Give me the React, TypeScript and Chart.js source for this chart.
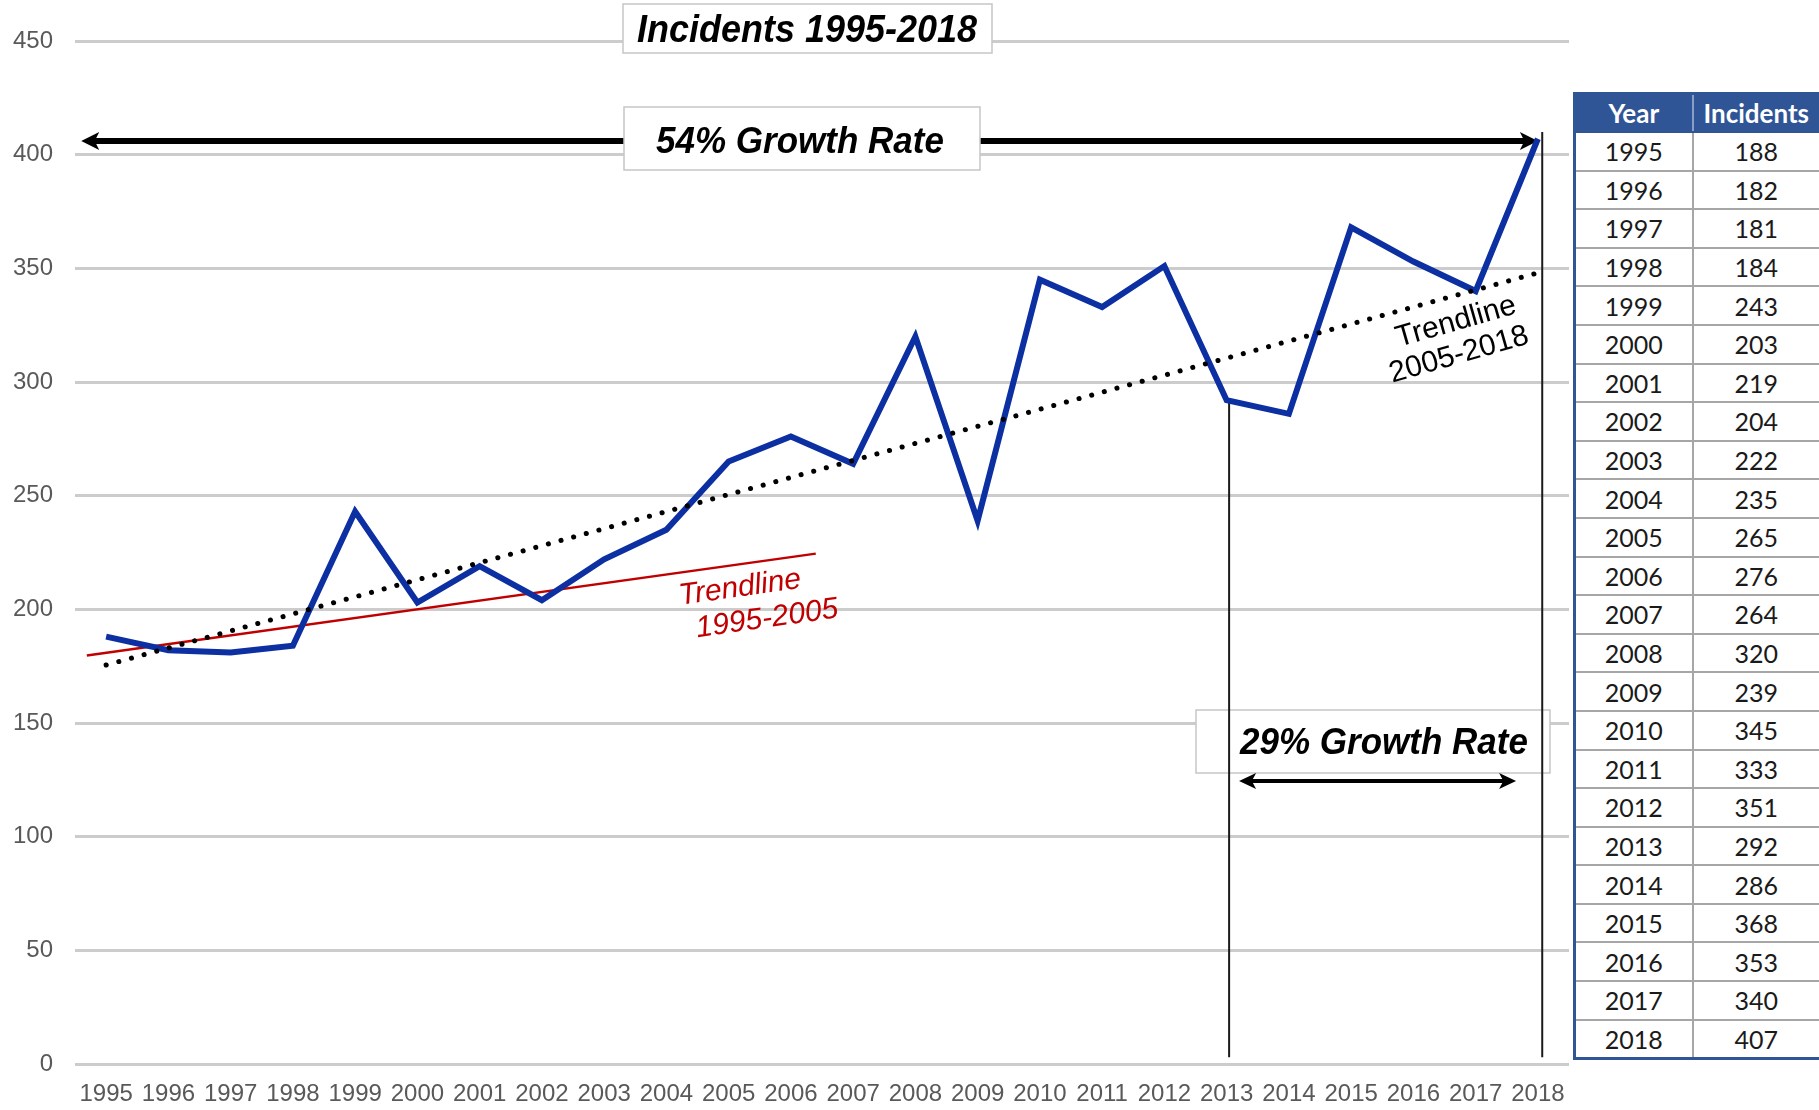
import React, { useEffect, useRef } from "react";
import { Chart, registerables } from "chart.js";

Chart.register(...registerables);

// ---------- data ----------
const years = [1995, 1996, 1997, 1998, 1999, 2000, 2001, 2002, 2003, 2004, 2005, 2006, 2007, 2008, 2009, 2010, 2011, 2012, 2013, 2014, 2015, 2016, 2017, 2018];
const incidents = [188, 182, 181, 184, 243, 203, 219, 204, 222, 235, 265, 276, 264, 320, 239, 345, 333, 351, 292, 286, 368, 353, 340, 407];
const yTicks = [0, 50, 100, 150, 200, 250, 300, 350, 400, 450];
const trendLong = [{ x: 1995, y: 175.5 }, { x: 2018, y: 348 }];
const trendShort = [{ x: 1994.69, y: 179.7 }, { x: 2006.4, y: 224.5 }];
const marker2013 = [{ x: 2013.04, y: 292 }, { x: 2013.04, y: 3 }];
const marker2018 = [{ x: 2018.07, y: 410 }, { x: 2018.07, y: 3 }];
const titleText = "Incidents 1995-2018";
const growthLongLabel = "54% Growth Rate";
const growthShortLabel = "29% Growth Rate";
const growthLongSpan = [1994.6, 2018];
const growthLongLevel = 406;
const growthShortSpan = [2013.2, 2017.65];
const growthShortLevel = 124.5;
const trendLongLabel = ["Trendline", "2005-2018"];
const trendShortLabel = ["Trendline", "1995-2005"];
const tableHeader = ["Year", "Incidents"];

const FONT = '"Liberation Sans", Arial, sans-serif';

function drawArrow(ctx: CanvasRenderingContext2D, x1: number, x2: number, y: number, w: number, hl: number, hw: number) {
  ctx.save();
  ctx.strokeStyle = "#000";
  ctx.fillStyle = "#000";
  ctx.lineWidth = w;
  ctx.beginPath();
  ctx.moveTo(x1 + hl * 0.6, y);
  ctx.lineTo(x2 - hl * 0.6, y);
  ctx.stroke();
  ctx.beginPath();
  ctx.moveTo(x1, y);
  ctx.lineTo(x1 + hl, y - hw);
  ctx.lineTo(x1 + hl * 0.75, y);
  ctx.lineTo(x1 + hl, y + hw);
  ctx.closePath();
  ctx.fill();
  ctx.beginPath();
  ctx.moveTo(x2, y);
  ctx.lineTo(x2 - hl, y - hw);
  ctx.lineTo(x2 - hl * 0.75, y);
  ctx.lineTo(x2 - hl, y + hw);
  ctx.closePath();
  ctx.fill();
  ctx.restore();
}

function drawBox(ctx: CanvasRenderingContext2D, x: number, y: number, w: number, h: number) {
  ctx.save();
  ctx.fillStyle = "#ffffff";
  ctx.fillRect(x, y, w, h);
  ctx.strokeStyle = "#c6c6c6";
  ctx.lineWidth = 1.5;
  ctx.strokeRect(x, y, w, h);
  ctx.restore();
}

function drawText(ctx: CanvasRenderingContext2D, text: string, cx: number, cy: number, font: string, color: string, angleDeg = 0, stretchY = 1) {
  ctx.save();
  ctx.translate(cx, cy);
  ctx.rotate((angleDeg * Math.PI) / 180);
  ctx.scale(1, stretchY);
  ctx.font = font;
  ctx.fillStyle = color;
  ctx.textAlign = "center";
  ctx.textBaseline = "middle";
  ctx.fillText(text, 0, 0);
  ctx.restore();
}

const annotations = {
  id: "annotations",
  beforeDatasetsDraw(chart: any) {
    const { ctx, scales } = chart;
    const x = scales.x;
    const y = scales.y;
    drawArrow(ctx, x.getPixelForValue(growthLongSpan[0]), x.getPixelForValue(growthLongSpan[1]), y.getPixelForValue(growthLongLevel), 6, 18, 9);
    drawBox(ctx, 624, 107, 356, 63);
    drawBox(ctx, 1196, 710, 354, 63);
    drawBox(ctx, 623, 4, 369, 49);
    drawArrow(ctx, x.getPixelForValue(growthShortSpan[0]), x.getPixelForValue(growthShortSpan[1]), y.getPixelForValue(growthShortLevel), 4, 17, 8);
  },
  afterDatasetsDraw(chart: any) {
    const { ctx } = chart;
    drawText(ctx, titleText, 807, 31, `italic bold 36px ${FONT}`, "#000", 0, 1.08);
    drawText(ctx, growthLongLabel, 800, 143, `italic bold 35px ${FONT}`, "#000", 0, 1.08);
    drawText(ctx, growthShortLabel, 1384, 744, `italic bold 35px ${FONT}`, "#000", 0, 1.08);
    drawText(ctx, trendLongLabel[0], 1456, 322, `30px ${FONT}`, "#000", -16);
    drawText(ctx, trendLongLabel[1], 1459, 355, `30px ${FONT}`, "#000", -16);
    drawText(ctx, trendShortLabel[0], 740, 588, `italic 30px ${FONT}`, "#c00000", -8);
    drawText(ctx, trendShortLabel[1], 767, 619, `italic 30px ${FONT}`, "#c00000", -8);
  },
};

export default function App() {
  const canvasRef = useRef<HTMLCanvasElement | null>(null);

  useEffect(() => {
    if (!canvasRef.current) return;
    const chart = new Chart(canvasRef.current, {
      type: "line",
      data: {
        datasets: [
          {
            data: trendLong,
            borderColor: "#000000",
            borderWidth: 5,
            borderDash: [0.1, 13],
            borderCapStyle: "round",
            pointRadius: 0,
            tension: 0,
          },
          {
            data: years.map((yr, i) => ({ x: yr, y: incidents[i] })),
            borderColor: "#0c2fa2",
            borderWidth: 6,
            borderJoinStyle: "miter",
            pointRadius: 0,
            tension: 0,
          },
          {
            data: trendShort,
            borderColor: "#c00000",
            borderWidth: 2.5,
            pointRadius: 0,
            tension: 0,
          },
          {
            data: marker2013,
            borderColor: "#1a1a1a",
            borderWidth: 2,
            pointRadius: 0,
          },
          {
            data: marker2018,
            borderColor: "#1a1a1a",
            borderWidth: 2,
            pointRadius: 0,
          },
        ] as any,
      },
      options: {
        responsive: false,
        animation: false,
        devicePixelRatio: 1,
        layout: { padding: { left: 0, right: 250, top: 41, bottom: 0 } },
        plugins: {
          legend: { display: false },
          tooltip: { enabled: false },
          title: { display: false },
        },
        scales: {
          x: {
            type: "linear",
            min: 1994.5,
            max: 2018.5,
            afterBuildTicks: (s: any) => {
              s.ticks = years.map((v) => ({ value: v }));
            },
            afterFit: (s: any) => {
              s.height = 46;
            },
            grid: { display: false, drawTicks: false },
            border: { display: false },
            ticks: {
              autoSkip: false,
              maxRotation: 0,
              minRotation: 0,
              padding: 16,
              color: "#595959",
              font: { family: FONT, size: 24 },
              callback: (v: any) => String(v),
            },
          },
          y: {
            min: 0,
            max: 450,
            afterBuildTicks: (s: any) => {
              s.ticks = yTicks.map((v) => ({ value: v }));
            },
            afterFit: (s: any) => {
              s.width = 75;
            },
            grid: { color: "#cccccc", lineWidth: 3, drawTicks: false },
            border: { display: false },
            ticks: {
              padding: 22,
              color: "#595959",
              font: { family: FONT, size: 24 },
              callback: (v: any) => String(v),
            },
          },
        },
      } as any,
      plugins: [annotations],
    });
    return () => chart.destroy();
  }, []);

  const cellBase: React.CSSProperties = {
    border: "2px solid #a6a6a6",
    textAlign: "center",
    padding: 0,
    fontFamily: 'Lato, "Open Sans", sans-serif',
    fontSize: 25,
    color: "#1a1a1a",
    height: 36.6,
    lineHeight: "36px",
  };
  const headBase: React.CSSProperties = {
    ...cellBase,
    background: "#2f5597",
    color: "#ffffff",
    fontWeight: 700,
    fontSize: 26,
    height: 36,
    borderTop: "none",
    borderBottom: "2px solid #2f5597",
  };

  return (
    <div style={{ position: "absolute", left: 0, top: 0, width: 1819, height: 1110, background: "#fff", overflow: "hidden" }}>
      <canvas ref={canvasRef} width={1819} height={1110} style={{ display: "block", width: 1819, height: 1110 }} />
      <table
        style={{
          position: "absolute",
          left: 1573,
          top: 92,
          width: 246,
          borderCollapse: "collapse",
          tableLayout: "fixed",
          border: "3px solid #2f5597",
          background: "#fff",
        }}
      >
        <colgroup>
          <col style={{ width: 118 }} />
          <col style={{ width: 128 }} />
        </colgroup>
        <thead>
          <tr>
            <th style={{ ...headBase, borderLeft: "none", borderRight: "2px solid #8a9fc6" }}>{tableHeader[0]}</th>
            <th style={{ ...headBase, borderRight: "none" }}>{tableHeader[1]}</th>
          </tr>
        </thead>
        <tbody>
          {years.map((yr, i) => (
            <tr key={yr}>
              <td style={cellBase}>{yr}</td>
              <td style={cellBase}>{incidents[i]}</td>
            </tr>
          ))}
        </tbody>
      </table>
    </div>
  );
}
